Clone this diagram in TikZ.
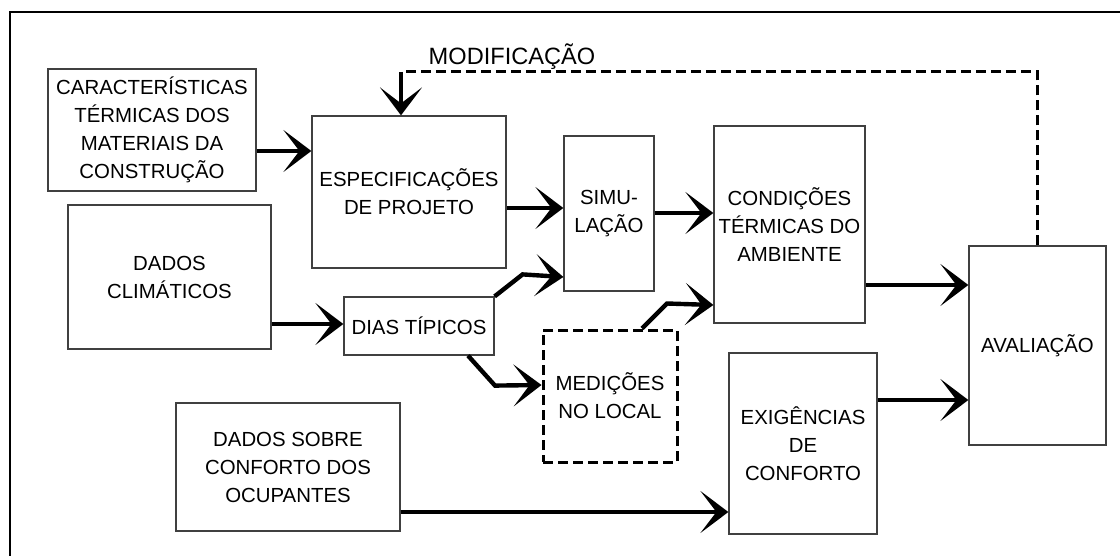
\documentclass[tikz,border=0pt]{standalone}
\usepackage{fontspec}
\setmainfont{Liberation Sans}
\usetikzlibrary{arrows.meta, positioning}

\begin{document}
\begin{tikzpicture}[x=0.5pt, y=-0.5pt,
    box/.style={draw=black!75, line width=0.6pt, align=center, inner sep=1pt,
        font=\fontsize{10.2}{14}\selectfont},
    flow/.style={line width=2.2pt, -{Stealth[length=14pt, width=21pt, inset=8pt]}},
    dashline/.style={line width=1.5pt, dash pattern=on 5pt off 2.5pt}]
    \useasboundingbox (0,0) rectangle (1120,556);
    \draw[line width=0.6pt] (10,556) -- (10,12) -- (1120,12);

    \node[box, minimum width=104pt, minimum height=61pt] (carac) at (152,130)
        {CARACTERÍSTICAS\\TÉRMICAS DOS\\MATERIAIS DA\\CONSTRUÇÃO};
    \node[box, minimum width=97pt, minimum height=76pt] (espec) at (409,192)
        {ESPECIFICAÇÕES\\DE PROJETO};
    \node[box, minimum width=101.5pt, minimum height=72pt] (clim) at (169.5,277)
        {DADOS\\CLIMÁTICOS};
    \node[box, minimum width=75pt, minimum height=29pt] (dias) at (419,326)
        {DIAS TÍPICOS};
    \node[box, minimum width=45pt, minimum height=77.5pt] (simu) at (609,213.5)
        {SIMU-\\LAÇÃO};
    \node[box, minimum width=75.5pt, minimum height=98.5pt] (cond) at (789.5,224.5)
        {CONDIÇÕES\\TÉRMICAS DO\\AMBIENTE};
    \node[box, minimum width=68.5pt, minimum height=99.5pt] (aval) at (1037.5,345.5)
        {AVALIAÇÃO};
    \node[box, draw=black, dashline, minimum width=67pt, minimum height=66pt] (med) at (610,396)
        {MEDIÇÕES\\NO LOCAL};
    \node[box, minimum width=112pt, minimum height=64pt] (sobre) at (288,467)
        {DADOS SOBRE\\CONFORTO DOS\\OCUPANTES};
    \node[box, minimum width=74pt, minimum height=90.5pt] (exig) at (803,443.5)
        {EXIGÊNCIAS\\DE\\CONFORTO};
    \node[font=\fontsize{11.8}{14}\selectfont] (modif) at (512,57) {MODIFICAÇÃO};
    \coordinate (volta) at (401,72);

    \draw[flow] (carac.east |- 0,151) -- (espec.west |- 0,151);
    \draw[flow] (espec.east |- 0,208) -- (simu.west |- 0,208);
    \draw[flow] (simu.east |- 0,213) -- (cond.west |- 0,213);
    \draw[flow] (clim.east |- 0,324) -- (dias.west |- 0,324);
    \draw[flow] (dias.north east) -- ++(28,-22) -- (simu.west |- 0,277);
    \draw[flow] (dias.south -| 468,0) -- ++(27,30) -- (med.west |- 0,385);
    \draw[flow] (med.north -| 642,0) -- ++(25,-25) -- (cond.west |- 0,305);
    \draw[flow] (cond.east |- 0,285) -- (aval.west |- 0,285);
    \draw[flow] (exig.east |- 0,400) -- (aval.west |- 0,400);
    \draw[flow] (sobre.east |- 0,512) -- (exig.west |- 0,512);
    \draw[dashline] (aval.north) |- (volta);
    \draw[flow] (volta) -- (volta |- espec.north);
\end{tikzpicture}
\end{document}
